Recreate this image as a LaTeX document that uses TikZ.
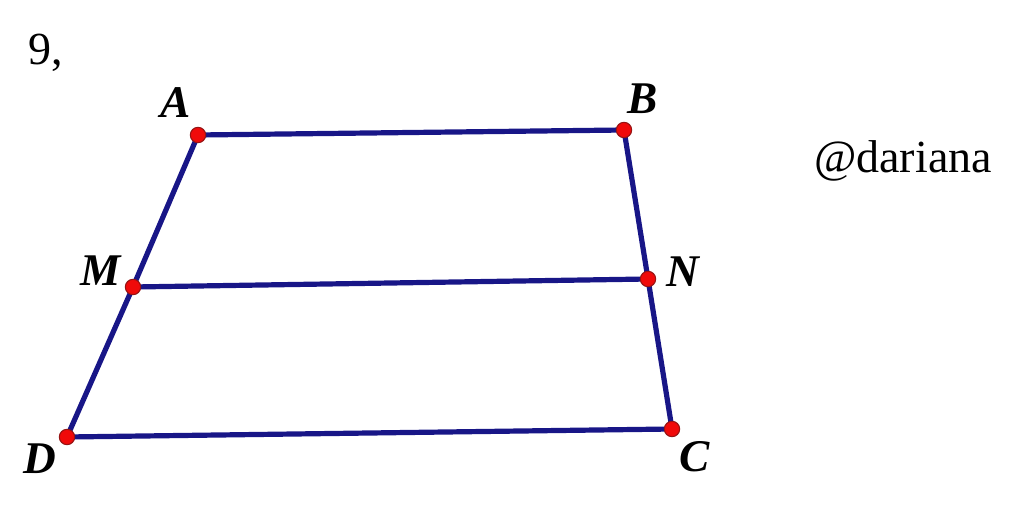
\documentclass[tikz,border=0pt]{standalone}
\usepackage{fontspec}
\setmainfont{Liberation Serif}
\definecolor{navy}{RGB}{24,22,135}
\definecolor{ptred}{RGB}{240,10,10}
\definecolor{ptedge}{RGB}{150,20,20}
\tikzset{
  seg/.style={draw=navy, line width=3.9pt, line cap=round},
  pt/.style={circle, fill=ptred, draw=ptedge, line width=0.8pt, minimum size=11.5pt, inner sep=0pt},
  lbl/.style={font=\fontsize{34}{40}\selectfont\bfseries\itshape, inner sep=0pt},
  txt/.style={font=\fontsize{34.5}{40}\selectfont, inner sep=0pt}
}
\begin{document}
\begin{tikzpicture}[x=0.75pt, y=-0.75pt]
\useasboundingbox (0,0) rectangle (1024,506);
\coordinate (A) at (198,135);
\coordinate (B) at (624,130);
\coordinate (M) at (133,287);
\coordinate (N) at (648,279);
\coordinate (D) at (67,437);
\coordinate (C) at (672,429);
\draw[seg] (A) -- (B);
\draw[seg] (M) -- (N);
\draw[seg] (D) -- (C);
\draw[seg] (A) -- (M) -- (D);
\draw[seg] (B) -- (N) -- (C);
\node[pt] (pA) at (A) {};
\node[pt] (pB) at (B) {};
\node[pt] (pM) at (M) {};
\node[pt] (pN) at (N) {};
\node[pt] (pD) at (D) {};
\node[pt] (pC) at (C) {};
\node[lbl] (lA) at (176,103) {A};
\node[lbl] (lB) at (643,99) {B};
\node[lbl] (lM) at (101,271) {M};
\node[lbl] (lN) at (683,272) {N};
\node[lbl] (lD) at (40,459) {D};
\node[lbl] (lC) at (695,457) {C};
\node[txt, anchor=base west] (nine) at (28,65) {9,};
\node[txt, anchor=base] (handle) at (903,172) {@dariana};
\end{tikzpicture}
\end{document}
